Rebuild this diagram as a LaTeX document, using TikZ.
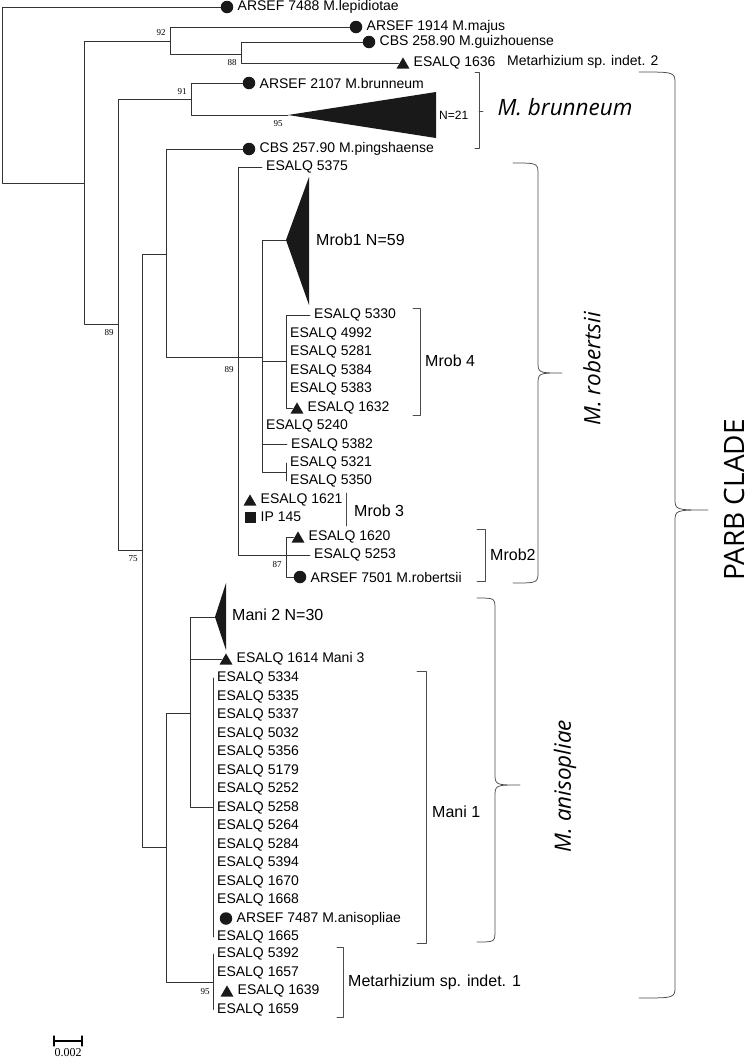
\documentclass[tikz,border=0pt]{standalone}
\usepackage{fontspec}
\setmainfont{Liberation Sans}
\newfontfamily\bsfont{Liberation Serif}
\newfontfamily\cladefont{Open Sans}
\usetikzlibrary{shapes.geometric}
% curly brace: x end, x line, x tip, y top, y mid, y bottom
\newcommand{\cladebrace}[6]{\draw[bkt] (#1,#4) .. controls (#2,#4) .. (#2,{#4+12}) -- (#2,{#5-12}) .. controls (#2,#5) .. (#3,#5) .. controls (#2,#5) .. (#2,{#5+12}) -- (#2,{#6-12}) .. controls (#2,#6) .. (#1,#6);}

\begin{document}
\begin{tikzpicture}[x=1pt, y=-1pt, line join=round, line cap=round,
  br/.style={draw=black!80, line width=0.85pt},
  bkt/.style={draw=black!70, line width=0.75pt},
  tip/.style={anchor=west, inner xsep=4pt, inner ysep=0pt, font=\fontsize{14}{16}\selectfont},
  grp/.style={anchor=west, inner sep=0pt, font=\fontsize{16}{18}\selectfont},
  bs/.style={inner sep=0pt, font=\bsfont\fontsize{9}{10}\selectfont},
  dot/.style={circle, fill=black!90, inner sep=0pt, minimum size=12.5pt},
  tri/.style={regular polygon, regular polygon sides=3, fill=black!90, inner sep=0pt, minimum size=15pt, yshift=-1.9pt},
  sqr/.style={rectangle, fill=black!90, inner sep=0pt, minimum size=11pt},
  clade/.style={font=\cladefont\itshape\fontsize{22.5}{26}\selectfont, inner sep=0pt}]
\useasboundingbox (0,0) rectangle (750,1058);

% inner nodes of the tree
\coordinate (r) at (2,95);
\coordinate (nA) at (84,183);
\coordinate (nB) at (170,41);
\coordinate (nC) at (241,54);
\coordinate (nD) at (118,324);
\coordinate (nE) at (191,99);
\coordinate (nF) at (142,550);
\coordinate (nG) at (166,254);
\coordinate (nH) at (238,357);
\coordinate (nI) at (262,357);
\coordinate (nK) at (286,361);
\coordinate (nL) at (286,472);
\coordinate (nJ) at (286,555);
\coordinate (nM) at (166,847);
\coordinate (nN) at (190,713);
\coordinate (nO) at (213,807);
\coordinate (nP) at (213,982);

% outgroups and M. brunneum
\node[dot] (cLep) at (227,7) {}; \node[tip] (tLep) at (233.5,7) {ARSEF 7488 M.lepidiotae};
\node[dot] (cMaj) at (356,27) {}; \node[tip] (tMaj) at (362.5,27) {ARSEF 1914 M.majus};
\node[dot] (cGui) at (369,42) {}; \node[tip] (tGui) at (375.5,42) {CBS 258.90 M.guizhouense};
\node[tri] (c1636) at (403,63) {}; \node[tip] (t1636) at (409.5,63) {ESALQ 1636};
\node[anchor=west, inner sep=0pt, font=\fontsize{14}{16}\selectfont] (lInd2) at (507,62) {Metarhizium sp. indet. 2};
\node[dot] (cBru) at (249,83) {}; \node[tip] (tBru) at (255.5,83) {ARSEF 2107 M.brunneum};
\coordinate (triB) at (288,115);
\fill[black!90] (triB) -- (436,92) -- (436,138) -- cycle;
\node[anchor=west, inner sep=0pt, font=\fontsize{12}{14}\selectfont] (nBru) at (439,115) {N=21};
\node[dot] (cPin) at (249,149) {}; \node[tip] (tPin) at (255.5,149) {CBS 257.90 M.pingshaense};

% M. robertsii
\node[tip] (t5375) at (262,167) {ESALQ 5375};
\coordinate (triR) at (286,240);
\fill[black!90] (triR) -- (309,177) -- (309,305) -- cycle;
\node[grp] (lMrob1) at (316,240) {Mrob1 N=59};
\node[tip] (t5330) at (310,315) {ESALQ 5330};
\foreach \lab/\yy in {4992/333.5, 5281/352, 5384/370.5, 5383/389}
  \node[tip] (t\lab) at (286,\yy) {ESALQ \lab};
\node[tri] (c1632) at (297,408) {}; \node[tip] (t1632) at (303.5,408) {ESALQ 1632};
\node[tip] (t5240) at (262,426) {ESALQ 5240};
\node[tip] (t5382) at (287,444.5) {ESALQ 5382};
\node[tip] (t5321) at (286,463) {ESALQ 5321};
\node[tip] (t5350) at (286,481) {ESALQ 5350};
\node[tri] (c1621) at (250,500) {}; \node[tip] (t1621) at (256.5,500) {ESALQ 1621};
\node[sqr] (cIP) at (250,517) {}; \node[tip] (tIP) at (256.5,517) {IP 145};
\node[tri] (c1620) at (298,537) {}; \node[tip] (t1620) at (304.5,537) {ESALQ 1620};
\node[tip] (t5253) at (310,555) {ESALQ 5253};
\node[dot] (c7501) at (300,577) {}; \node[tip] (t7501) at (306.5,577) {ARSEF 7501 M.robertsii};

% M. anisopliae
\coordinate (triA) at (215,617);
\fill[black!90] (triA) -- (226,583) -- (226,650) -- cycle;
\node[grp] (lMani2) at (232,615) {Mani 2 N=30};
\node[tri] (c1614) at (226,659) {}; \node[tip] (t1614) at (232.5,659) {ESALQ 1614 Mani 3};
\foreach \lab [count=\i from 0] in {5334,5335,5337,5032,5356,5179,5252,5258,5264,5284,5394,1670,1668}
  \node[tip] (m\lab) at (213,{678+18.5*\i}) {ESALQ \lab};
\node[dot] (c7487) at (226,918.5) {}; \node[tip] (t7487) at (232.5,918.5) {ARSEF 7487 M.anisopliae};
\node[tip] (t1665) at (213,937) {ESALQ 1665};
\node[tip] (t5392) at (213,954) {ESALQ 5392};
\node[tip] (t1657) at (213,972.5) {ESALQ 1657};
\node[tri] (c1639) at (227,991) {}; \node[tip] (t1639) at (233.5,991) {ESALQ 1639};
\node[tip] (t1659) at (213,1009.5) {ESALQ 1659};

% branches
\draw[br] (r) |- (cLep.west);
\draw[br] (r) |- (nA);
\draw[br] (nA) |- (nB);
\draw[br] (nA) |- (nD);
\draw[br] (nB) |- (cMaj.west);
\draw[br] (nB) |- (nC);
\draw[br] (nC) |- (cGui.west);
\draw[br] (nC) |- (c1636.west |- t1636.west);
\draw[br] (nD) |- (nE);
\draw[br] (nD) |- (nF);
\draw[br] (nE) |- (cBru.west);
\draw[br] (nE) |- (triB);
\draw[br] (nF) |- (nG);
\draw[br] (nF) |- (nM);
\draw[br] (nG) |- (cPin.west);
\draw[br] (nG) |- (nH);
\draw[br] (nH) |- (t5375.west);
\draw[br] (nH) |- (nI);
\draw[br] (nH) |- (nJ);
\draw[br] (nI) |- (triR);
\draw[br] (nI) |- (nK);
\draw[br] (nI) |- (t5382.west);
\draw[br] (nI) |- (nL);
\draw[br] (nK) |- (t5330.west);
\draw[br] (nK) |- (c1632.west |- t1632.west);
\draw[br] (nL) |- (t5321.west);
\draw[br] (nL) |- (t5350.west);
\draw[br] (nJ) |- (c1620.west |- t1620.west);
\draw[br] (nJ) |- (t5253.west);
\draw[br] (nJ) |- (c7501.west);
\draw[br] (nM) |- (nN);
\draw[br] (nM) |- (nP);
\draw[br] (nN) |- (triA);
\draw[br] (nN) |- (c1614.west |- t1614.west);
\draw[br] (nN) |- (nO);
\draw[br] (nO) |- (m5334.west);
\draw[br] (nO) |- (t1665.west);
\draw[br] (nP) |- (t5392.west);
\draw[br] (nP) |- (t1659.west);

% bootstrap values
\foreach \v/\px/\py [count=\k] in {92/161/33, 88/232/63, 91/182/92, 95/278/124, 89/109/333, 89/229/370, 75/133/559, 87/277/565, 95/205/992}
  \node[bs] (b\k) at (\px,\py) {\v};

% brackets and group names
\draw[bkt] (475,72) -- (479,72) -- (479,148) -- (475,148) (479,111) -- (483,111);
\draw[bkt] (413,308) -- (420,308) -- (420,415) -- (413,415);
\draw[bkt] (346,493) -- (346,526);
\draw[bkt] (477,529) -- (485,529) -- (485,581) -- (477,581);
\draw[bkt] (417,671) -- (426,671) -- (426,943) -- (417,943);
\draw[bkt] (337,947) -- (343,947) -- (343,1017) -- (337,1017);
\node[grp] (lMrob4) at (425,361) {Mrob 4};
\node[grp] (lMrob3) at (354,511) {Mrob 3};
\node[grp] (lMrob2) at (490,555) {Mrob2};
\node[grp] (lMani1) at (432,812) {Mani 1};
\node[grp] (lInd1) at (348,982) {Metarhizium sp. indet. 1};

% species and clade braces
\cladebrace{513}{538}{562}{163}{373}{583}
\cladebrace{477}{495}{520}{598}{785}{942}
\cladebrace{639}{675}{708}{72}{510}{998}
\node[clade] (lBrun) at (565,107) {M. brunneum};
\node[clade, rotate=90] (lRob) at (592,369) {M. robertsii};
\node[clade, rotate=90] (lAni) at (565,786) {M. anisopliae};
\node[rotate=90, inner sep=0pt, font=\cladefont\fontsize{28}{30}\selectfont] (lParb) at (734,500) {PARB CLADE};

% scale bar
\coordinate (sbL) at (54,1041);
\coordinate (sbR) at (82,1041);
\draw[line width=1.2pt] (sbL) -- (sbR) (54,1036) -- (54,1046) (82,1036) -- (82,1046);
\node[bs, font=\bsfont\fontsize{12}{13}\selectfont] (sbT) at (68,1053) {0.002};
\end{tikzpicture}
\end{document}
